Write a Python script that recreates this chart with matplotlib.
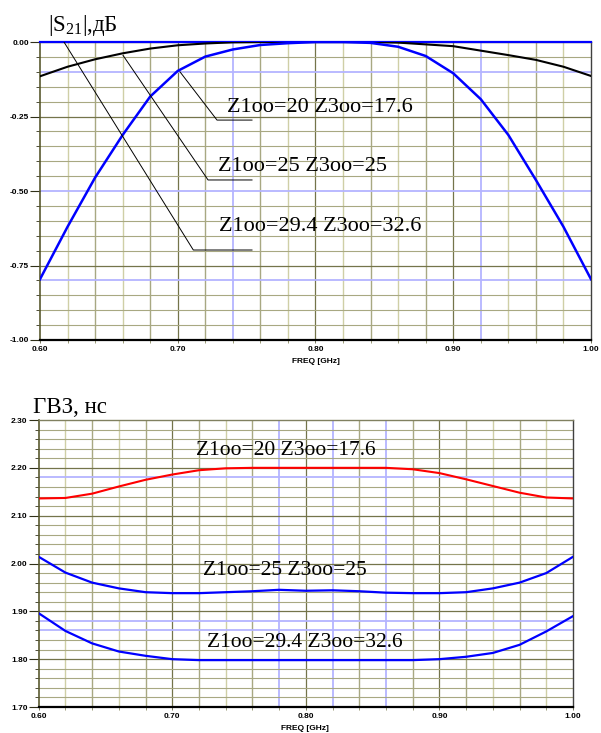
import matplotlib
matplotlib.use("Agg")
import matplotlib.pyplot as plt
import numpy as np

plt.rcParams['mathtext.fontset'] = 'custom'
plt.rcParams['mathtext.rm'] = 'Liberation Serif'
plt.rcParams['mathtext.it'] = 'Liberation Serif:italic'

# ---------------- data ----------------
freq = [0.60, 0.62, 0.64, 0.66, 0.68, 0.70, 0.72, 0.74, 0.76, 0.78, 0.80,
        0.82, 0.84, 0.86, 0.88, 0.90, 0.92, 0.94, 0.96, 0.98, 1.00]

# |S21|, dB
s21_black = [-0.115, -0.083, -0.058, -0.038, -0.022, -0.011, -0.005, -0.001, 0.0, 0.0, 0.0,
             0.0, 0.0, -0.002, -0.008, -0.014, -0.029, -0.044, -0.060, -0.083, -0.114]
s21_flat = [0.0] * 21
s21_dip = [-0.796, -0.620, -0.455, -0.312, -0.183, -0.097, -0.049, -0.025, -0.010, -0.004, 0.0,
           0.0, -0.003, -0.016, -0.047, -0.105, -0.192, -0.312, -0.463, -0.620, -0.796]

# group delay, ns
gd_red = [2.136, 2.137, 2.146, 2.161, 2.175, 2.186, 2.195, 2.199, 2.200, 2.200, 2.200,
          2.200, 2.200, 2.200, 2.197, 2.189, 2.176, 2.162, 2.148, 2.138, 2.136]
gd_mid = [2.014, 1.981, 1.960, 1.948, 1.940, 1.938, 1.938, 1.940, 1.942, 1.945, 1.943,
          1.944, 1.942, 1.939, 1.938, 1.938, 1.940, 1.948, 1.960, 1.980, 2.014]
gd_low = [1.896, 1.859, 1.833, 1.816, 1.807, 1.800, 1.798, 1.798, 1.798, 1.798, 1.798,
          1.798, 1.798, 1.798, 1.798, 1.800, 1.805, 1.813, 1.830, 1.858, 1.890]

labels = ["Z1oo=20 Z3oo=17.6", "Z1oo=25 Z3oo=25", "Z1oo=29.4 Z3oo=32.6"]
x_ticks = [0.60, 0.70, 0.80, 0.90, 1.00]
x_ticklabels = ["0.60", "0.70", "0.80", "0.90", "1.00"]
y1_ticks = [0.00, -0.25, -0.50, -0.75, -1.00]
y1_ticklabels = ["0.00", "-0.25", "-0.50", "-0.75", "-1.00"]
y2_ticks = [1.70, 1.80, 1.90, 2.00, 2.10, 2.20, 2.30]
y2_ticklabels = ["1.70", "1.80", "1.90", "2.00", "2.10", "2.20", "2.30"]
x_title = "FREQ [GHz]"

W, H = 601, 733
fig = plt.figure(figsize=(W / 100, H / 100), dpi=100)

def px(x, y):
    return x / W, 1 - y / H

tickfont = dict(family='Liberation Sans', weight='bold', size=6.0)
serif = 'Liberation Serif'

GRID_LIGHT = '#cfcfa6'
GRID_MED = '#a8a882'
GRID_DARK = '#74744a'
GRID_BLUE = '#b4b4ff'


def style_axes(ax, ylo, yhi, yminor, ytk, ytl, vblue, hblue, hdark_step):
    ax.set_xlim(0.6, 1.0)
    ax.set_ylim(ylo, yhi)
    # vertical grid
    for i, xv in enumerate(np.arange(0.62, 0.99, 0.02)):
        xv = round(xv, 2)
        if any(abs(xv - b) < 1e-6 for b in vblue):
            c, lw = GRID_BLUE, 1.3
        elif abs(round(xv * 10) - xv * 10) < 1e-6:
            c, lw = GRID_DARK, 0.9
        else:
            c, lw = (GRID_MED if i % 2 else GRID_LIGHT), 1.0
        ax.axvline(xv, color=c, lw=lw, zorder=0.5)
    # horizontal grid
    n = int(round((yhi - ylo) / yminor))
    for k in range(1, n):
        yv = round(ylo + k * yminor, 3)
        if any(abs(yv - b) < 1e-6 for b in hblue):
            c, lw = GRID_BLUE, 1.3
        elif abs(yv / hdark_step - round(yv / hdark_step)) < 1e-6:
            c, lw = GRID_DARK, 0.9
        else:
            c, lw = GRID_MED, 0.8
        ax.axhline(yv, color=c, lw=lw, zorder=0.5)
    ax.set_xticks(x_ticks)
    ax.set_xticklabels(x_ticklabels, fontdict=tickfont)
    ax.set_xticks(np.arange(0.6, 1.001, 0.02), minor=True)
    ax.set_yticks(ytk)
    ax.set_yticklabels(ytl, fontdict=tickfont)
    ax.set_yticks(np.arange(ylo, yhi + 1e-9, yminor), minor=True)
    ax.tick_params(axis='y', which='major', length=7, width=0.8, pad=1, color='#303018')
    ax.tick_params(axis='y', which='minor', length=3, width=0.6, color='#303018')
    ax.tick_params(axis='x', which='major', length=2.5, width=0.6, pad=1.5, color='#606040')
    ax.tick_params(axis='x', which='minor', length=2.5, width=0.6, color='#8a8a60')
    ax.spines['bottom'].set_linewidth(1.6)
    ax.spines['bottom'].set_color('black')
    ax.spines['left'].set_color('#5a5a30')
    ax.spines['left'].set_linewidth(1.2)
    ax.spines['right'].set_color('#404040')
    ax.spines['right'].set_linewidth(1.0)
    ax.spines['top'].set_color('#808060')
    ax.spines['top'].set_linewidth(1.0)


# ---------------- top chart ----------------
ax1 = fig.add_axes([40 / W, 1 - 340 / H, 551 / W, 298 / H])
style_axes(ax1, -1.0, 0.0, 0.05, y1_ticks, y1_ticklabels,
           vblue=[0.74, 0.92], hblue=[-0.10, -0.50, -0.80], hdark_step=0.25)
ax1.plot(freq, s21_flat, color='#0000ff', lw=1.6, zorder=3, clip_on=False)
ax1.plot(freq, s21_black, color='black', lw=1.5, zorder=3)
ax1.plot(freq, s21_dip, color='#0000ff', lw=1.8, zorder=3)
fig.text(*px(316, 362), x_title, ha='center', va='center', **tickfont)

# leader lines (data coordinates)
ax1.plot([0.7016, 0.7285, 0.7539], [-0.100, -0.262, -0.262], color='black', lw=0.7, zorder=4)
ax1.plot([0.6603, 0.7220, 0.7539], [-0.045, -0.463, -0.463], color='black', lw=0.7, zorder=4)
ax1.plot([0.6174, 0.7113, 0.7539], [0.000, -0.698, -0.698], color='black', lw=0.7, zorder=4)

fig.text(*px(48, 31), r"|S$_{\mathregular{21}}$|,дБ", family=serif, fontsize=16.5, va='baseline')
fig.text(*px(227, 112), labels[0], family=serif, fontsize=16, va='baseline')
fig.text(*px(218, 171), labels[1], family=serif, fontsize=16, va='baseline')
fig.text(*px(219, 231), labels[2], family=serif, fontsize=16, va='baseline')

# ---------------- bottom chart ----------------
ax2 = fig.add_axes([38.7 / W, 1 - 707 / H, 534.3 / W, 287 / H])
style_axes(ax2, 1.70, 2.30, 0.02, y2_ticks, y2_ticklabels,
           vblue=[0.78, 0.82, 0.86], hblue=[1.86, 1.88, 2.18], hdark_step=0.1)
ax2.plot(freq, gd_red, color='#ff0000', lw=1.5, zorder=3)
ax2.plot(freq, gd_mid, color='#0000ff', lw=1.6, zorder=3)
ax2.plot(freq, gd_low, color='#0000ff', lw=1.6, zorder=3)
fig.text(*px(305, 728), x_title, ha='center', va='center', **tickfont)

fig.text(*px(33, 413), "ГВЗ, нс", family=serif, fontsize=16.5, va='baseline')
fig.text(*px(196, 455), labels[0], family=serif, fontsize=15.5, va='baseline')
fig.text(*px(203, 575), labels[1], family=serif, fontsize=15.5, va='baseline')
fig.text(*px(207, 647), labels[2], family=serif, fontsize=15.5, va='baseline')

fig.savefig("out.png", dpi=100)
